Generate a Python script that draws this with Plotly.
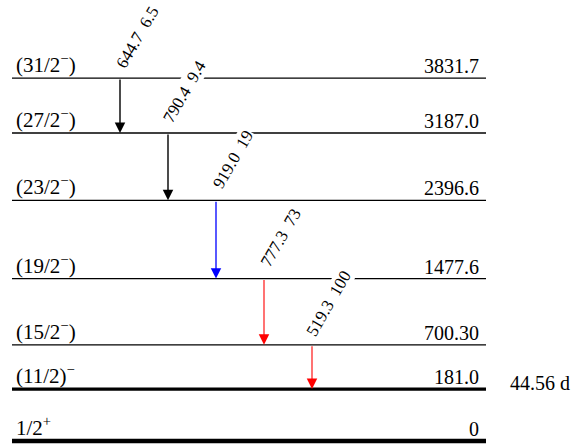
import plotly.graph_objects as go

# ---- data ----
level_energy = [0.0, 181.0, 700.30, 1477.6, 2396.6, 3187.0, 3831.7]
level_text = ["0", "181.0", "700.30", "1477.6", "2396.6", "3187.0", "3831.7"]
level_spin = ["1/2<sup>+</sup>", "(11/2)<sup>−</sup>", "(15/2<sup>−</sup>)",
              "(19/2<sup>−</sup>)", "(23/2<sup>−</sup>)", "(27/2<sup>−</sup>)",
              "(31/2<sup>−</sup>)"]
level_halflife = ["", "44.56 d", "", "", "", "", ""]
level_thick = [True, True, False, False, False, False, False]

gamma_energy = ["644.7", "790.4", "919.0", "777.3", "519.3"]
gamma_intensity = ["6.5", "9.4", "19", "73", "100"]
gamma_from = [3831.7, 3187.0, 2396.6, 1477.6, 700.30]
gamma_to = [3187.0, 2396.6, 1477.6, 700.30, 181.0]
gamma_color = ["black", "black", "blue", "red", "red"]
gamma_width = [1.4, 1.4, 1.3, 1.1, 1.1]

# ---- layout parameters ----
GROUND_GAP = 429.0      # extra display space between ground state and first excited level
X_LEFT, X_RIGHT = 12, 486
ARROW_X0, ARROW_DX = 120, 48
FONT = "Liberation Serif, Times New Roman, serif"


def disp(e):
    return e + (GROUND_GAP if e > 0 else 0.0)


fig = go.Figure()

# level lines
for e, thick in zip(level_energy, level_thick):
    y = disp(e)
    fig.add_trace(go.Scatter(
        x=[X_LEFT, X_RIGHT], y=[y, y], mode="lines",
        line=dict(color="black", width=(4.5 if e == 0 else 3.2) if thick else 1.3),
        hoverinfo="skip", showlegend=False))

annotations = []
for e, txt, spin, hl in zip(level_energy, level_text, level_spin, level_halflife):
    y = disp(e)
    annotations.append(dict(x=X_LEFT + 2, y=y, text=spin, showarrow=False,
                            xanchor="left", yanchor="bottom", yshift=-1,
                            font=dict(family=FONT, size=21, color="black")))
    annotations.append(dict(x=X_RIGHT - 5, y=y, text=txt, showarrow=False,
                            xanchor="right", yanchor="bottom", yshift=-1,
                            font=dict(family=FONT, size=20, color="black")))
    if hl:
        annotations.append(dict(x=X_RIGHT + 22, y=y, text=hl, showarrow=False,
                                xanchor="left", yanchor="middle", yshift=6,
                                font=dict(family=FONT, size=20, color="black")))

for i, (ge, gi, ef, et, c, w) in enumerate(zip(gamma_energy, gamma_intensity,
                                                gamma_from, gamma_to,
                                                gamma_color, gamma_width)):
    x = ARROW_X0 + i * ARROW_DX
    annotations.append(dict(x=x, y=disp(et), ax=x, ay=disp(ef),
                            xref="x", yref="y", axref="x", ayref="y",
                            showarrow=True, arrowhead=2, arrowcolor=c,
                            arrowwidth=w, arrowsize=1.9 * 1.1 / w,
                            standoff=0, startstandoff=0, text=""))
    annotations.append(dict(x=x, y=disp(ef), text=ge + "\u00a0\u00a0" + gi,
                            showarrow=False, textangle=-60,
                            xanchor="center", yanchor="middle",
                            xshift=17, yshift=41, bgcolor="white", borderpad=0,
                            font=dict(family=FONT, size=17, color="black")))

fig.update_layout(
    width=573, height=448,
    margin=dict(l=0, r=0, t=0, b=0),
    paper_bgcolor="white", plot_bgcolor="white",
    font=dict(family=FONT, size=20, color="black"),
    xaxis=dict(range=[0, 573], visible=False, fixedrange=True),
    yaxis=dict(range=[-82, 5177], visible=False, fixedrange=True),
    annotations=annotations,
    showlegend=False,
)

fig.write_html("out.html", config={"displayModeBar": False},
               post_script="document.body.style.margin='0';document.body.style.overflow='hidden';")
